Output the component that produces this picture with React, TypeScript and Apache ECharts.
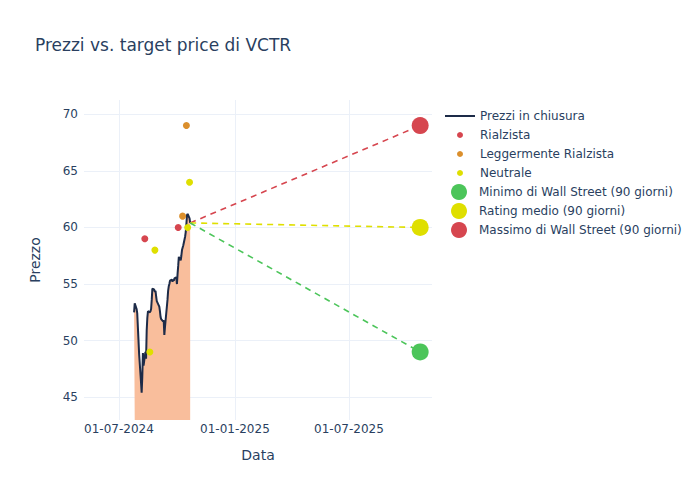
import React, { useEffect, useRef } from 'react';
import * as echarts from 'echarts';

const FONT = 'DejaVu Sans';
const TEXT = '#2a3f5f';

const priceDates = [
  '2024-07-25', '2024-07-26', '2024-07-29', '2024-07-30', '2024-07-31',
  '2024-08-01', '2024-08-02', '2024-08-05', '2024-08-06', '2024-08-07', '2024-08-08', '2024-08-09',
  '2024-08-12', '2024-08-13', '2024-08-14', '2024-08-15', '2024-08-16',
  '2024-08-19', '2024-08-20', '2024-08-21', '2024-08-22', '2024-08-23',
  '2024-08-26', '2024-08-27', '2024-08-28', '2024-08-29', '2024-08-30',
  '2024-09-03', '2024-09-04', '2024-09-05', '2024-09-06',
  '2024-09-09', '2024-09-10', '2024-09-11', '2024-09-12', '2024-09-13',
  '2024-09-16', '2024-09-17', '2024-09-18', '2024-09-19', '2024-09-20',
  '2024-09-23', '2024-09-24', '2024-09-25', '2024-09-26', '2024-09-27',
  '2024-09-30', '2024-10-01', '2024-10-02', '2024-10-03', '2024-10-04',
  '2024-10-07', '2024-10-08', '2024-10-09', '2024-10-10', '2024-10-11',
  '2024-10-14', '2024-10-15', '2024-10-16', '2024-10-17', '2024-10-18',
  '2024-10-21', '2024-10-22',
];
const priceValues = [
  52.5, 53.3, 52.8, 52.4, 51.2,
  50.0, 48.8, 46.3, 45.4, 46.8, 48.9, 47.8,
  49.0, 48.4, 50.9, 52.0, 52.6,
  52.5, 52.6, 52.8, 53.6, 54.6,
  54.5, 54.3, 54.4, 53.9, 53.5,
  53.0, 52.6, 52.1, 51.9,
  51.7, 51.8, 50.5, 51.2, 51.8,
  53.6, 54.4, 54.8, 55.0, 55.3,
  55.4, 55.2, 55.4, 55.3, 55.5,
  55.6, 55.0, 55.9, 56.6, 57.4,
  57.1, 57.5, 58.0, 58.2, 58.4,
  59.2, 59.6, 60.3, 61.1, 61.2,
  60.8, 60.4,
];

const rialzistaDates = ['2024-08-11', '2024-10-03'];
const rialzistaValues = [59, 60];
const leggermenteDates = ['2024-10-10', '2024-10-16'];
const leggermenteValues = [61, 69];
const neutraleDates = ['2024-08-19', '2024-08-27', '2024-10-18', '2024-10-21'];
const neutraleValues = [49, 58, 60, 64];

const targetDate = '2025-10-22';
const targetLow = 49;
const targetAvg = 60;
const targetHigh = 69;

const xTickDates = ['2024-07-01', '2025-01-01', '2025-07-01'];
const yTicks = [45, 50, 55, 60, 65, 70];

const toMs = (s: string) => {
  const [y, m, d] = s.split('-').map(Number);
  return Date.UTC(y, m - 1, d);
};
const pad = (n: number) => (n < 10 ? '0' + n : '' + n);
const fmt = (v: number) => {
  const d = new Date(v);
  return pad(d.getUTCDate()) + '-' + pad(d.getUTCMonth() + 1) + '-' + d.getUTCFullYear();
};

const C_NAVY = '#1d2b48';
const C_FILL = '#f9be9c';
const C_RED = '#d6464f';
const C_ORANGE = '#db8f2c';
const C_YELLOW = '#dfdf00';
const C_GREEN = '#4cc55a';

export default function App() {
  const ref = useRef<HTMLDivElement>(null);
  useEffect(() => {
    const chart = echarts.init(ref.current!, null, { renderer: 'svg' });
    const xMin = Date.UTC(2024, 4, 6, 12);
    const xMax = Date.UTC(2025, 10, 9, 19);
    const lastDate = priceDates[priceDates.length - 1];
    const lastVal = priceValues[priceValues.length - 1];
    const xTicks = xTickDates.map(toMs);
    const pts = (ds: string[], vs: number[]) => ds.map((d, i) => [toMs(d), vs[i]]);

    const dashed = (name: string, color: string, target: number) => ({
      name,
      type: 'line',
      data: [[toMs(lastDate), lastVal], [toMs(targetDate), target]],
      showSymbol: false,
      symbol: 'none',
      lineStyle: { color, width: 1.6, type: [6, 5] },
      silent: true,
      z: 3,
    });

    const legendRow = (name: string, left: number, top: number, h: number, icon: string, color: string) => ({
      show: true,
      orient: 'vertical',
      left,
      top,
      padding: 0,
      itemWidth: 30,
      itemHeight: h,
      selectedMode: false,
      textStyle: { color: TEXT, fontSize: 12, fontFamily: FONT },
      data: [{ name, icon, itemStyle: { color, borderWidth: 0, opacity: 1 } }],
    });

    const option: any = {
      animation: false,
      backgroundColor: '#ffffff',
      textStyle: { fontFamily: FONT },
      title: {
        text: 'Prezzi vs. target price di VCTR',
        left: 30,
        top: 31,
        textStyle: { color: TEXT, fontSize: 17, fontWeight: 'normal', fontFamily: FONT },
      },
      grid: { left: 84, right: 268, top: 100, bottom: 80 },
      legend: [
        legendRow('Prezzi in chiusura', 445, 110, 2, 'rect', C_NAVY),
        legendRow('Rialzista', 457, 129, 6, 'circle', C_RED),
        legendRow('Leggermente Rialzista', 457, 148, 6, 'circle', C_ORANGE),
        legendRow('Neutrale', 457, 167, 6, 'circle', C_YELLOW),
        legendRow('Minimo di Wall Street (90 giorni)', 451, 184, 16, 'circle', C_GREEN),
        legendRow('Rating medio (90 giorni)', 451, 203, 16, 'circle', C_YELLOW),
        legendRow('Massimo di Wall Street (90 giorni)', 451, 222, 16, 'circle', C_RED),
      ],
      xAxis: {
        type: 'value',
        min: xMin,
        max: xMax,
        name: 'Data',
        nameLocation: 'middle',
        nameGap: 28,
        nameTextStyle: { color: TEXT, fontSize: 14, fontFamily: FONT },
        axisLine: { show: false },
        axisTick: { show: false, customValues: xTicks },
        axisLabel: {
          customValues: xTicks,
          formatter: (v: number) => fmt(v),
          color: TEXT,
          fontSize: 12,
          fontFamily: FONT,
          margin: 3,
          hideOverlap: false,
        },
        splitLine: { show: true, lineStyle: { color: '#ebf0f8', width: 1 } },
      },
      yAxis: {
        type: 'value',
        min: 42.99,
        max: 71.26,
        name: 'Prezzo',
        nameLocation: 'middle',
        nameGap: 42,
        nameRotate: 90,
        nameTextStyle: { color: TEXT, fontSize: 14, fontFamily: FONT },
        axisLine: { show: false },
        axisTick: { show: false, customValues: yTicks },
        axisLabel: { customValues: yTicks, color: TEXT, fontSize: 12, fontFamily: FONT, margin: 6 },
        splitLine: { show: true, lineStyle: { color: '#ebf0f8', width: 1 } },
      },
      series: [
        {
          name: 'Prezzi in chiusura',
          type: 'line',
          data: pts(priceDates, priceValues),
          showSymbol: false,
          symbol: 'none',
          lineStyle: { color: C_NAVY, width: 2 },
          itemStyle: { color: C_NAVY },
          areaStyle: { color: C_FILL, opacity: 1 },
          z: 2,
        },
        dashed('_high', C_RED, targetHigh),
        dashed('_avg', C_YELLOW, targetAvg),
        dashed('_low', C_GREEN, targetLow),
        {
          name: 'Rialzista', type: 'scatter', data: pts(rialzistaDates, rialzistaValues),
          symbolSize: 7, itemStyle: { color: C_RED, opacity: 1 }, z: 4,
        },
        {
          name: 'Leggermente Rialzista', type: 'scatter', data: pts(leggermenteDates, leggermenteValues),
          symbolSize: 7, itemStyle: { color: C_ORANGE, opacity: 1 }, z: 4,
        },
        {
          name: 'Neutrale', type: 'scatter', data: pts(neutraleDates, neutraleValues),
          symbolSize: 7, itemStyle: { color: C_YELLOW, opacity: 1 }, z: 4,
        },
        {
          name: 'Minimo di Wall Street (90 giorni)', type: 'scatter', data: [[toMs(targetDate), targetLow]],
          symbolSize: 17, itemStyle: { color: C_GREEN, opacity: 1 }, z: 5,
        },
        {
          name: 'Rating medio (90 giorni)', type: 'scatter', data: [[toMs(targetDate), targetAvg]],
          symbolSize: 17, itemStyle: { color: C_YELLOW, opacity: 1 }, z: 5,
        },
        {
          name: 'Massimo di Wall Street (90 giorni)', type: 'scatter', data: [[toMs(targetDate), targetHigh]],
          symbolSize: 17, itemStyle: { color: C_RED, opacity: 1 }, z: 5,
        },
      ],
    };
    chart.setOption(option);
    return () => chart.dispose();
  }, []);
  return <div ref={ref} style={{ position: 'fixed', left: 0, top: 0, width: 700, height: 500 }} />;
}
